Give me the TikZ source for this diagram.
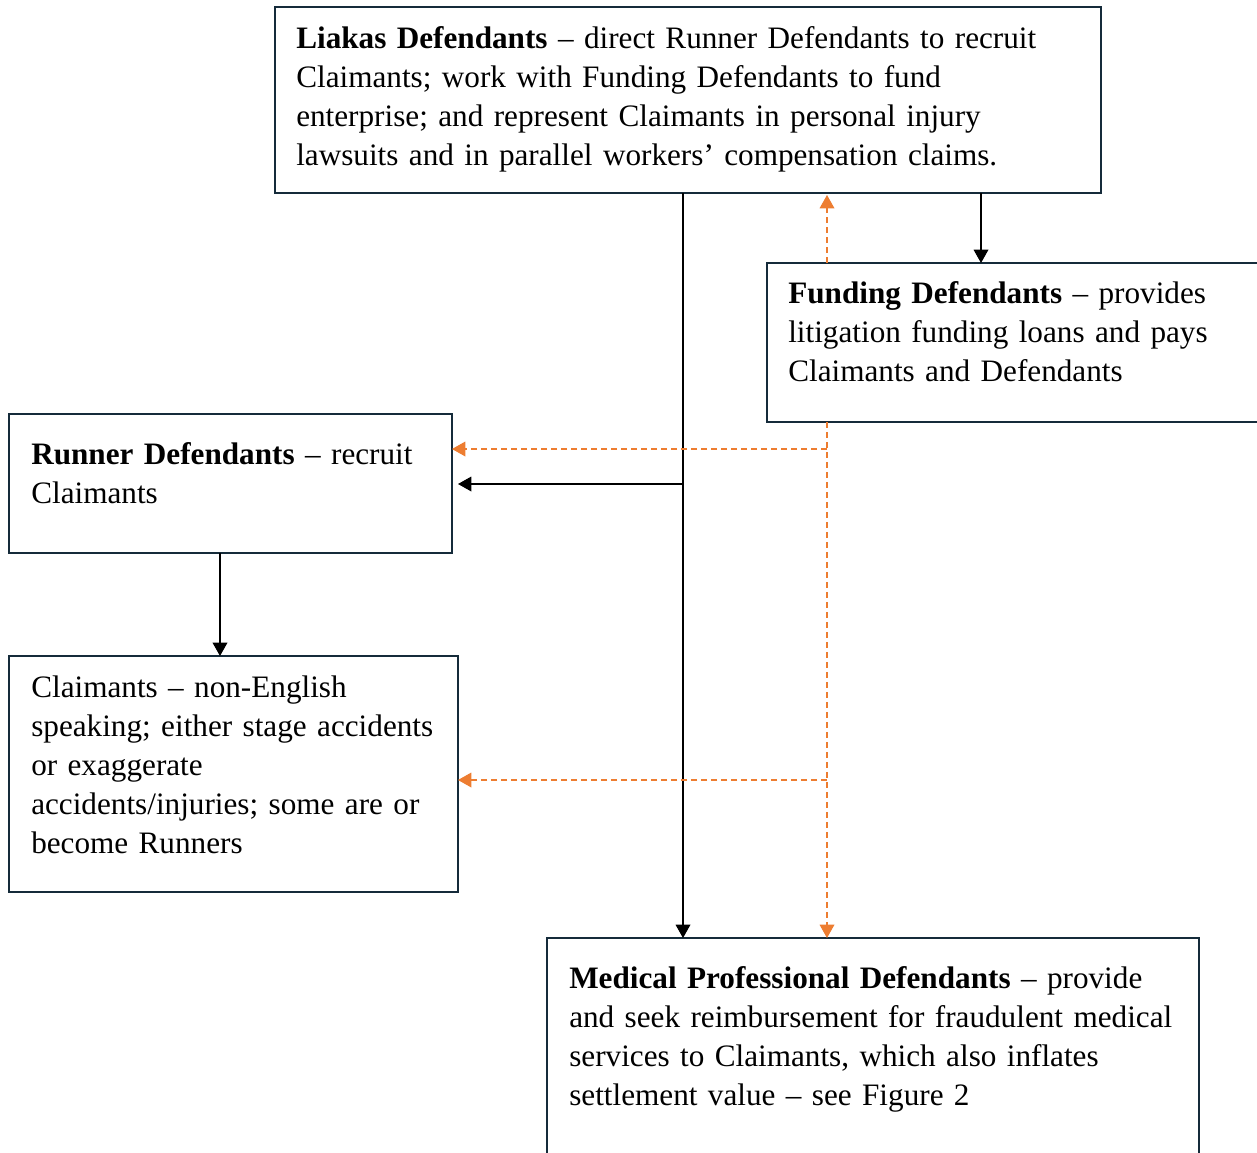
\documentclass[tikz,border=0pt]{standalone}
\usepackage{fontspec}
\setmainfont{Liberation Serif}
\usetikzlibrary{arrows.meta}
\definecolor{boxline}{HTML}{152B3A}
\definecolor{orng}{HTML}{ED7D31}
\begin{document}
\begin{tikzpicture}[x=0.75pt,y=-0.75pt,
  box/.style={draw=boxline,line width=1.5pt,fill=white,outer sep=0pt,inner sep=0pt,anchor=north west},
  txt/.style={font=\fontsize{23.4pt}{29.25pt}\selectfont,align=left,text width=640pt,inner sep=0pt,anchor=base west},
  blk/.style={draw=black,line width=1pt,-{Triangle[width=11pt,length=10pt]}},
  org/.style={draw=orng,line width=1pt,dash pattern=on 4.5pt off 3pt,-{Triangle[width=11pt,length=10pt]}}]
\clip (0,0) rectangle (1257,1153);
\fill[white] (0,0) rectangle (1257,1153);
% x positions for connectors
\coordinate (xa) at (683,0);
\coordinate (xb) at (827,0);
\coordinate (xc) at (981,0);
\coordinate (xd) at (220,0);
\coordinate (yr1) at (0,449);
\coordinate (yr2) at (0,484);
\coordinate (yc) at (0,780);
\node[box,minimum width=826*0.75pt,minimum height=186*0.75pt] (liakas) at (275,7) {};
\node[box,minimum width=503*0.75pt,minimum height=159*0.75pt] (funding) at (767,263) {};
\node[box,minimum width=443*0.75pt,minimum height=139*0.75pt] (runner) at (9,414) {};
\node[box,minimum width=449*0.75pt,minimum height=236*0.75pt] (claim) at (9,656) {};
\node[box,minimum width=652*0.75pt,minimum height=227*0.75pt] (med) at (547,938) {};
% texts
\node[txt] (liakasT) at (296,48) {\textbf{Liakas Defendants} -- direct Runner Defendants to recruit\\Claimants; work with Funding Defendants to fund\\enterprise; and represent Claimants in personal injury\\lawsuits and in parallel workers’ compensation claims.};
\node[txt] (fundingT) at (788,303) {\textbf{Funding Defendants} -- provides\\litigation funding loans and pays\\Claimants and Defendants};
\node[txt] (runnerT) at (31,464) {\textbf{Runner Defendants} -- recruit\\Claimants};
\node[txt] (claimT) at (31,697) {Claimants -- non-English\\speaking; either stage accidents\\or exaggerate\\accidents/injuries; some are or\\become Runners};
\node[txt] (medT) at (569,988) {\textbf{Medical Professional Defendants} -- provide\\and seek reimbursement for fraudulent medical\\services to Claimants, which also inflates\\settlement value -- see Figure 2};
% black connectors
\draw[blk] (liakas.south -| xa) -- (med.north -| xa);
\draw[blk,shorten >=4.5pt] (xa |- yr2) -- (runner.east |- yr2);
\draw[blk] (liakas.south -| xc) -- (funding.north -| xc);
\draw[blk] (runner.south -| xd) -- (claim.north -| xd);
% orange connectors
\draw[org] (funding.north -| xb) -- ([yshift=-1.5pt]liakas.south -| xb);
\draw[org] (funding.south -| xb) -- (med.north -| xb);
\draw[org] (xb |- yr1) -- (runner.east |- yr1);
\draw[org] (xb |- yc) -- (claim.east |- yc);
\end{tikzpicture}
\end{document}
